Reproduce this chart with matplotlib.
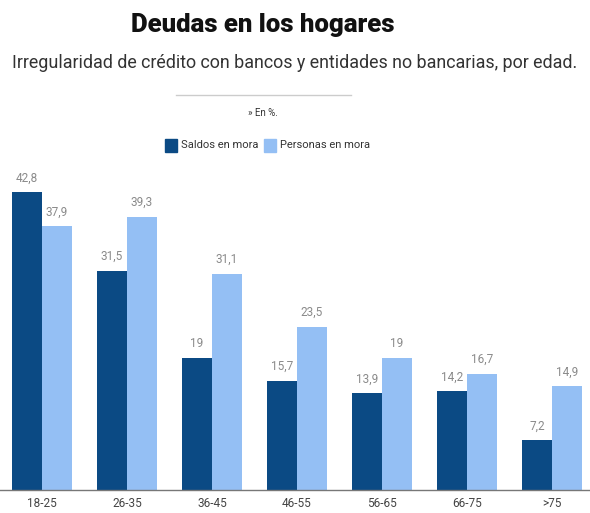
import numpy as np
from matplotlib import pyplot as plt

# 数据
categories = ["18-25", "26-35", "36-45", "46-55", "56-65", "66-75", ">75"]
saldos = [42.8, 31.5, 19, 15.7, 13.9, 14.2, 7.2]
personas = [37.9, 39.3, 31.1, 23.5, 19, 16.7, 14.9]
saldos_lbl = ["42,8", "31,5", "19", "15,7", "13,9", "14,2", "7,2"]
personas_lbl = ["37,9", "39,3", "31,1", "23,5", "19", "16,7", "14,9"]

DARK = "#0b4a84"
LIGHT = "#94bff4"
GREY = "#8a8a8a"

plt.rcParams["font.family"] = ["Roboto", "DejaVu Sans"]

fig = plt.figure(figsize=(5.9, 5.13), dpi=100)
ax = fig.add_axes([0, 0.0448, 1, 0.678])

x = np.arange(len(categories))
w = 0.35
ax.bar(x - w / 2, saldos, w, color=DARK)
ax.bar(x + w / 2, personas, w, color=LIGHT)

for xi, v, t in zip(x, saldos, saldos_lbl):
    ax.text(xi - w / 2, v + 1.1, t, ha="center", va="bottom", fontsize=8.5, color=GREY)
for xi, v, t in zip(x, personas, personas_lbl):
    ax.text(xi + w / 2, v + 1.1, t, ha="center", va="bottom", fontsize=8.5, color=GREY)

ax.set_xlim(-0.494, 6.447)
ax.set_ylim(0, 50)
ax.set_xticks(x)
ax.set_xticklabels(categories, fontsize=8.5, color="#444444")
ax.tick_params(axis="x", length=0, pad=5)
ax.set_yticks([])
for s in ["top", "right", "left"]:
    ax.spines[s].set_visible(False)
ax.spines["bottom"].set_color("#777777")
ax.spines["bottom"].set_linewidth(1)

# 标题
fig.text(0.445, 0.952, "Deudas en los hogares", ha="center", va="center",
         fontsize=18.5, fontweight="black", color="#111111")
fig.text(0.5, 0.877, "Irregularidad de crédito con bancos y entidades no bancarias, por edad.",
         ha="center", va="center", fontsize=12.9, color="#333333")
fig.add_artist(plt.Line2D([0.298, 0.595], [0.815, 0.815], color="#cccccc", lw=1))
fig.text(0.445, 0.78, "» En %.", ha="center", va="center", fontsize=7, color="#333333")

# 图例
fig.add_artist(plt.Rectangle((0.28, 0.704), 0.0203, 0.0253, color=DARK))
fig.text(0.306, 0.717, "Saldos en mora", ha="left", va="center", fontsize=8, color="#333333")
fig.add_artist(plt.Rectangle((0.448, 0.704), 0.0203, 0.0253, color=LIGHT))
fig.text(0.474, 0.717, "Personas en mora", ha="left", va="center", fontsize=8, color="#333333")

fig.savefig("out.png", dpi=100, facecolor="white")
